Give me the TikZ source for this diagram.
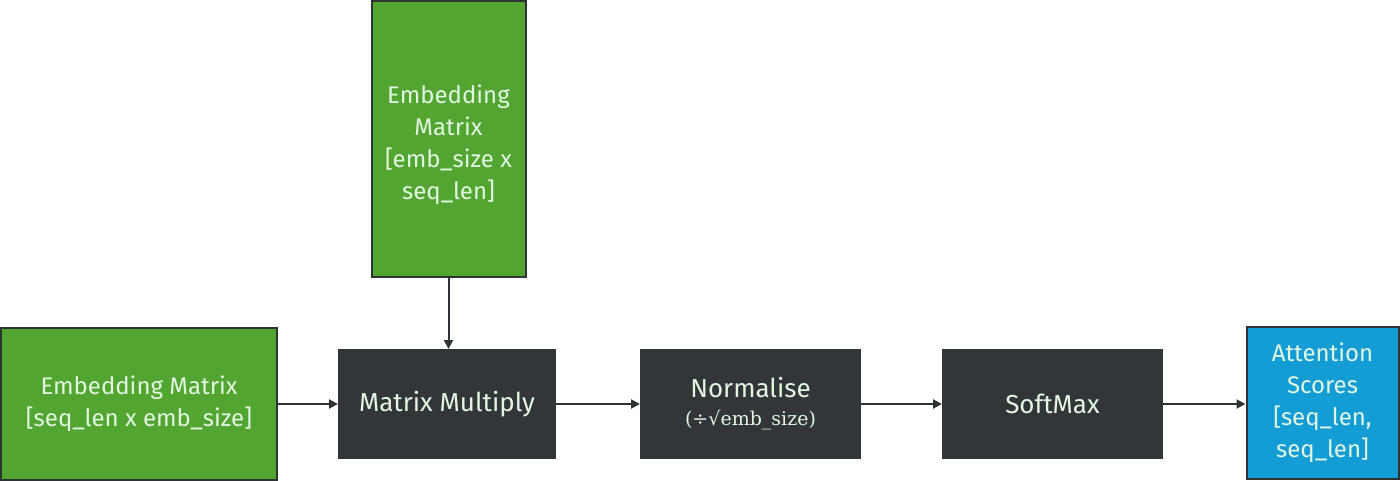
\documentclass[tikz,border=0pt]{standalone}
\usepackage{fontspec}
\setmainfont{Fira Sans}
\newfontfamily\serifsym{DejaVu Serif}
\usetikzlibrary{arrows.meta}
\definecolor{boxgreen}{HTML}{52A530}
\definecolor{boxdark}{HTML}{323638}
\definecolor{boxblue}{HTML}{139DD4}
\definecolor{edge}{HTML}{2F3336}
\definecolor{txt}{HTML}{E2F6E2}
\begin{document}
\begin{tikzpicture}[x=1pt,y=-1pt,
  box/.style={draw=edge,line width=2pt,text=txt,align=center,inner sep=0pt,
    font=\fontsize{24}{32}\selectfont},
  greenbox/.style={box,fill=boxgreen},
  darkbox/.style={box,fill=boxdark,draw=boxdark,font=\fontsize{26}{32}\selectfont},
  bluebox/.style={box,fill=boxblue},
  conn/.style={draw=edge,line width=2pt,-{Triangle[length=9pt,width=9pt]}}]
\useasboundingbox (0,0) rectangle (1400,481);
\node[greenbox,minimum width=276pt,minimum height=152pt] (emb1) at (139,404) {Embedding Matrix\\{[}seq\_len x emb\_size{]}};
\node[greenbox,minimum width=154pt,minimum height=276pt,inner ysep=0pt] (emb2) at (448.5,139) {\rule{0pt}{30pt}Embedding\\Matrix\\{[}emb\_size x\\seq\_len{]}};
\node[darkbox,minimum width=216pt,minimum height=108pt] (mm) at (447,404) {Matrix Multiply};
\node[darkbox,minimum width=219pt,minimum height=108pt] (norm) at (750.5,404) {Normalise\\[-4pt]{\serifsym\fontsize{19}{22}\selectfont(÷√emb\_size)}};
\node[darkbox,minimum width=219pt,minimum height=108pt] (soft) at (1052.5,404) {SoftMax};
\node[bluebox,minimum width=152pt,minimum height=152pt] (att) at (1322.5,403) {Attention\\Scores\\{[}seq\_len,\\seq\_len{]}};
\draw[conn] (emb1.east) -- (mm.west);
\draw[conn] (emb2.south) -- (emb2.south |- mm.north);
\draw[conn] (mm.east) -- (norm.west);
\draw[conn] (norm.east) -- (soft.west);
\draw[conn] (soft.east) -- (soft.east -| att.west);
\end{tikzpicture}
\end{document}
